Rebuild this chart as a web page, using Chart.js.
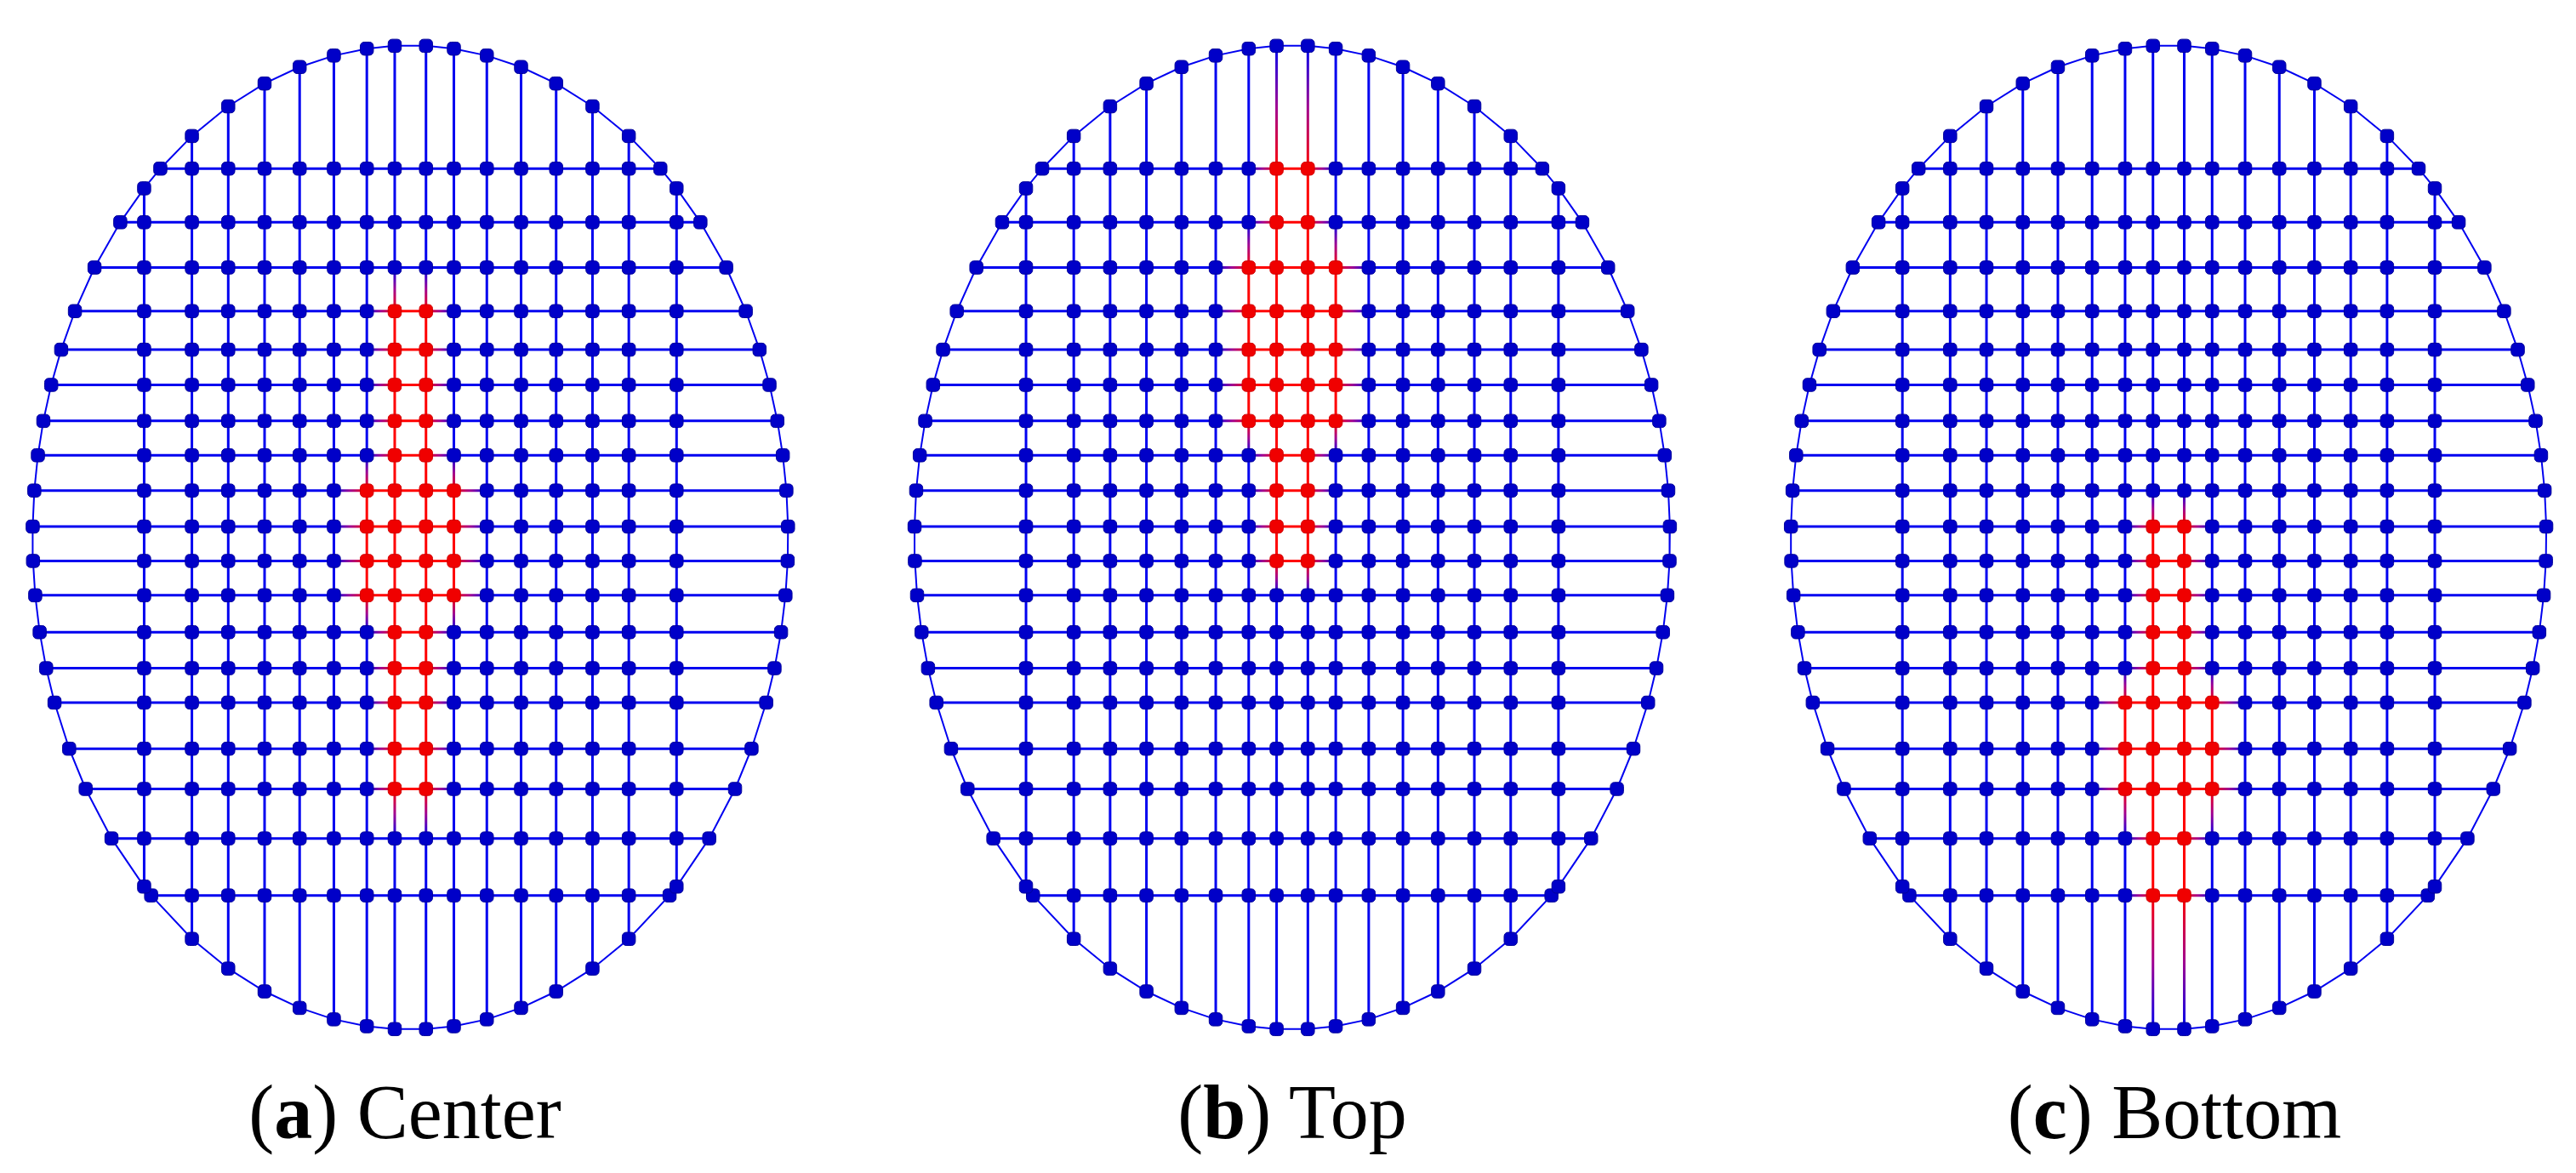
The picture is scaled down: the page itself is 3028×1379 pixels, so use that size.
<!DOCTYPE html>
<html>
<head>
<meta charset="utf-8">
<script src="https://cdn.jsdelivr.net/npm/chart.js@4/dist/chart.umd.min.js"></script>
<style>
  body { margin: 0; background: #fff; }
  #wrap { position: relative; width: 3028px; height: 1379px; }
  .lbl { position: absolute; top: 1256px; width: 800px; text-align: center;
         font-family: "Liberation Serif", "DejaVu Serif", serif; font-size: 90px; color: #000; }
</style>
</head>
<body>
<div id="wrap">
  <canvas id="mesh" width="3028" height="1379"></canvas>
  <div class="lbl" style="left:76px">(<b>a</b>) Center</div>
  <div class="lbl" style="left:1119px">(<b>b</b>) Top</div>
  <div class="lbl" style="left:2156px">(<b>c</b>) Bottom</div>
</div>
<script>
// mesh geometry (offsets from each ellipse centre)
const colOffsets = [-315, -258.5, -215.5, -172.5, -131, -90.5, -51.5, -18.5, 18.5, 51.5, 90.5, 131, 172.5, 215.5, 258.5, 315];
const rowOffsets = [-440, -376, -322, -270, -224, -182, -139, -98, -56, -13, 28, 69, 113, 156, 197, 252, 300, 359, 427];
const semiX = 447, semiY = 587;
const panelCentersX = [475.5, 1519, 2556];
const panelCenterY = 631;

// red nodes: row index -> column indices, one list per panel
const redCenter = {3:[7,8],4:[7,8],5:[7,8],6:[7,8],7:[7,8],8:[6,7,8,9],9:[6,7,8,9],10:[6,7,8,9],11:[6,7,8,9],12:[7,8],13:[7,8],14:[7,8],15:[7,8],16:[7,8]};
const redTop = {0:[7,8],1:[7,8],2:[6,7,8,9],3:[6,7,8,9],4:[6,7,8,9],5:[6,7,8,9],6:[6,7,8,9],7:[7,8],8:[7,8],9:[7,8],10:[7,8]};
const redBottom = {9:[7,8],10:[7,8],11:[7,8],12:[7,8],13:[7,8],14:[6,7,8,9],15:[6,7,8,9],16:[6,7,8,9],17:[7,8],18:[7,8]};
const redSets = [redCenter, redTop, redBottom];

const BLUE = '#0000f0', NODE = '#0000c8', RED = '#ff0000';

function segColor(data) {
  return ctx => {
    const a = data[ctx.p0DataIndex].red, b = data[ctx.p1DataIndex].red;
    if (a && b) return RED;
    if (!a && !b) return BLUE;
    const g = ctx.chart.ctx.createLinearGradient(ctx.p0.x, ctx.p0.y, ctx.p1.x, ctx.p1.y);
    g.addColorStop(0, a ? RED : BLUE);
    g.addColorStop(0.5, '#a00090');
    g.addColorStop(1, a ? BLUE : RED);
    return g;
  };
}

function lineSet(data, width) {
  return {
    type: 'line', data: data, showLine: true, pointRadius: 0, borderWidth: width,
    borderColor: BLUE, segment: { borderColor: segColor(data) }, order: 2
  };
}

const datasets = [];
panelCentersX.forEach((cx, p) => {
  const reds = redSets[p];
  const isRed = (r, c) => !!(reds[r] && reds[r].includes(c));
  const nodes = [];
  const boundary = [];
  // rows
  rowOffsets.forEach((dy, r) => {
    const hw = semiX * Math.sqrt(1 - (dy / semiY) ** 2);
    const pts = [{ x: cx - hw, y: panelCenterY + dy, red: false }];
    colOffsets.forEach((dx, c) => {
      if (Math.abs(dx) < hw) pts.push({ x: cx + dx, y: panelCenterY + dy, red: isRed(r, c) });
    });
    pts.push({ x: cx + hw, y: panelCenterY + dy, red: false });
    boundary.push(pts[0], pts[pts.length - 1]);
    pts.forEach(q => nodes.push(q));
    datasets.push(lineSet(pts, 3));
  });
  // columns
  colOffsets.forEach((dx, c) => {
    const hh = semiY * Math.sqrt(1 - (dx / semiX) ** 2);
    const pts = [{ x: cx + dx, y: panelCenterY - hh, red: false }];
    rowOffsets.forEach((dy, r) => {
      if (Math.abs(dy) < hh) pts.push({ x: cx + dx, y: panelCenterY + dy, red: isRed(r, c) });
    });
    pts.push({ x: cx + dx, y: panelCenterY + hh, red: false });
    boundary.push(pts[0], pts[pts.length - 1]);
    nodes.push(pts[0], pts[pts.length - 1]);
    datasets.push(lineSet(pts, 3));
  });
  // ellipse outline through boundary nodes
  boundary.sort((a, b) => Math.atan2(a.y - panelCenterY, (a.x - cx) / semiX * semiY) -
                          Math.atan2(b.y - panelCenterY, (b.x - cx) / semiX * semiY));
  boundary.push(boundary[0]);
  datasets.push(lineSet(boundary, 2));
  datasets.push({
    type: 'scatter', data: nodes, order: 1, pointStyle: 'rectRounded', pointRadius: 9,
    pointBackgroundColor: nodes.map(q => q.red ? '#f00000' : NODE),
    pointBorderColor: nodes.map(q => q.red ? '#d00000' : '#00009a'), pointBorderWidth: 1
  });
});

new Chart(document.getElementById('mesh'), {
  type: 'scatter',
  data: { datasets: datasets },
  options: {
    responsive: false,
    devicePixelRatio: 1,
    animation: false,
    layout: { padding: 0 },
    clip: false,
    plugins: { legend: { display: false }, tooltip: { enabled: false } },
    scales: {
      x: { type: 'linear', min: 0, max: 3028, display: false },
      y: { type: 'linear', min: 0, max: 1379, reverse: true, display: false }
    }
  }
});
</script>
</body>
</html>
